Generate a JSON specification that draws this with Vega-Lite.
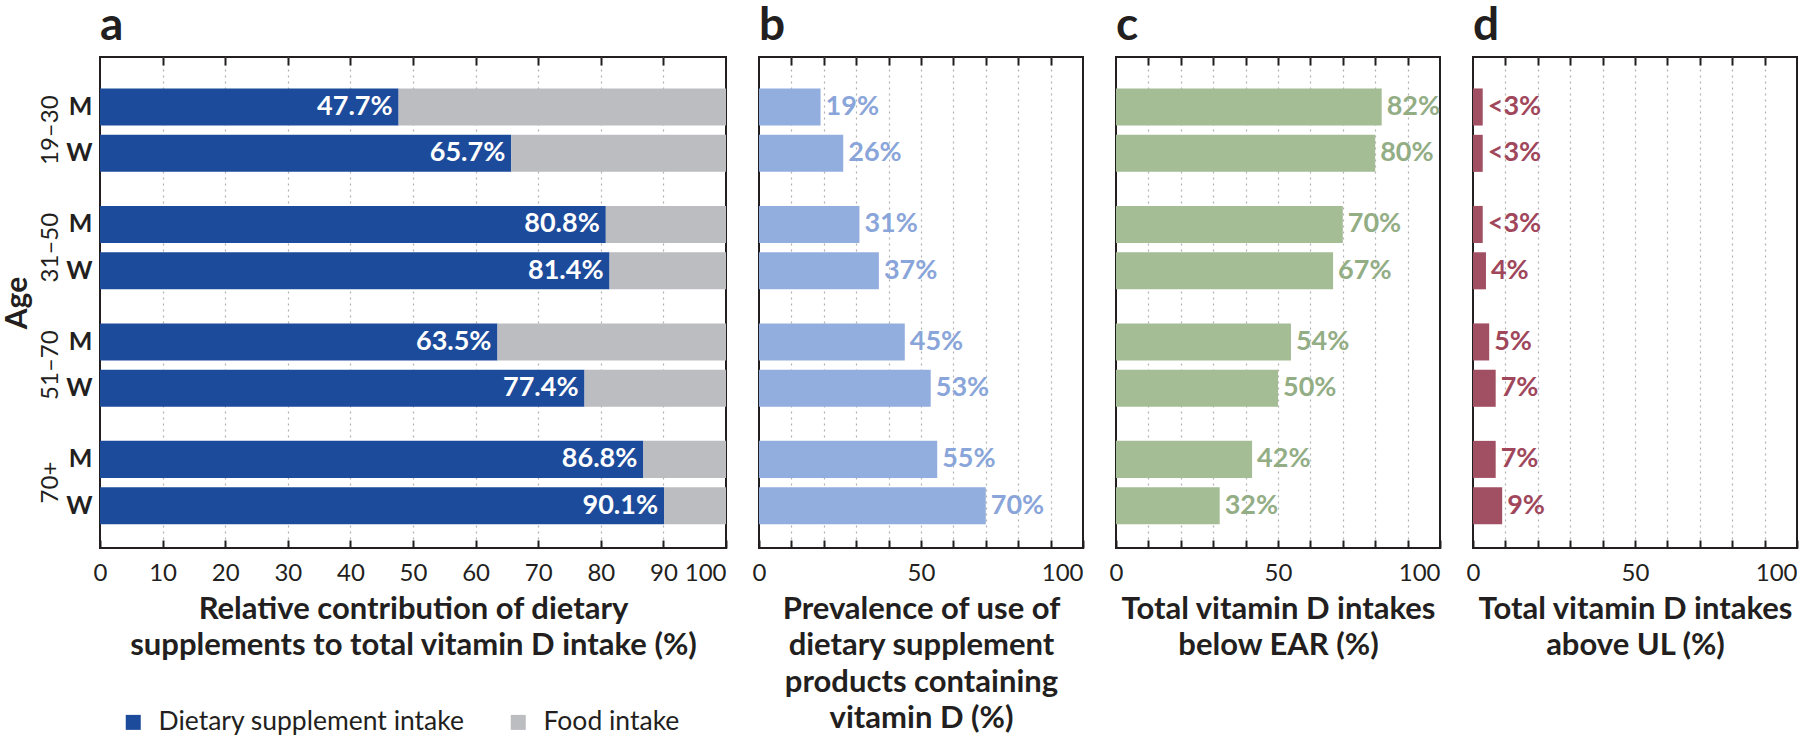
{
  "$schema": "https://vega.github.io/schema/vega-lite/v6.json",
  "autosize": {"type": "pad"},
  "padding": {"left": 1, "top": 2, "right": 0, "bottom": 0},
  "background": "white",
  "config": {
    "font": "Lato",
    "view": {"stroke": "#231f20", "strokeWidth": 2},
    "axis": {"labelColor": "#231f20", "titleColor": "#231f20", "tickColor": "#231f20", "labelFlush": false}
  },
  "datasets": {
    "vitd": [
      {"age": "19–30", "sex": "M", "Dietary supplement intake": 47.7, "Food intake": 52.3, "supp_label": "47.7%", "prev": 19, "prev_label": "19%", "below": 82, "below_label": "82%", "above": 3, "above_label": "<3%"},
      {"age": "19–30", "sex": "W", "Dietary supplement intake": 65.7, "Food intake": 34.3, "supp_label": "65.7%", "prev": 26, "prev_label": "26%", "below": 80, "below_label": "80%", "above": 3, "above_label": "<3%"},
      {"age": "31–50", "sex": "M", "Dietary supplement intake": 80.8, "Food intake": 19.2, "supp_label": "80.8%", "prev": 31, "prev_label": "31%", "below": 70, "below_label": "70%", "above": 3, "above_label": "<3%"},
      {"age": "31–50", "sex": "W", "Dietary supplement intake": 81.4, "Food intake": 18.6, "supp_label": "81.4%", "prev": 37, "prev_label": "37%", "below": 67, "below_label": "67%", "above": 4, "above_label": "4%"},
      {"age": "51–70", "sex": "M", "Dietary supplement intake": 63.5, "Food intake": 36.5, "supp_label": "63.5%", "prev": 45, "prev_label": "45%", "below": 54, "below_label": "54%", "above": 5, "above_label": "5%"},
      {"age": "51–70", "sex": "W", "Dietary supplement intake": 77.4, "Food intake": 22.6, "supp_label": "77.4%", "prev": 53, "prev_label": "53%", "below": 50, "below_label": "50%", "above": 7, "above_label": "7%"},
      {"age": "70+", "sex": "M", "Dietary supplement intake": 86.8, "Food intake": 13.2, "supp_label": "86.8%", "prev": 55, "prev_label": "55%", "below": 42, "below_label": "42%", "above": 7, "above_label": "7%"},
      {"age": "70+", "sex": "W", "Dietary supplement intake": 90.1, "Food intake": 9.9, "supp_label": "90.1%", "prev": 70, "prev_label": "70%", "below": 32, "below_label": "32%", "above": 9, "above_label": "9%"}
    ]
  },
  "spacing": 33,
  "bounds": "flush",
  "hconcat": [
    {
      "width": 626,
      "height": 491,
      "data": {"name": "vitd"},
      "title": {"text": "a", "anchor": "start", "frame": "group", "fontSize": 46, "fontWeight": "bold", "offset": 6, "color": "#231f20"},
      "encoding": {
        "yOffset": {"field": "sex", "type": "nominal", "sort": ["M", "W"], "scale": {"paddingInner": 0.2, "paddingOuter": 0}}
      },
      "layer": [
        {
          "transform": [{"fold": ["Dietary supplement intake", "Food intake"], "as": ["component", "share"]}],
          "mark": {"type": "bar"},
          "encoding": {
            "y": {"field": "age", "type": "nominal", "sort": ["19–30", "31–50", "51–70", "70+"],
                  "scale": {"type": "band", "paddingInner": 0.29, "paddingOuter": 0.235, "align": 0.57},
                  "axis": {"orient": "left", "title": null, "labelExpr": "['M', 'W']", "labelLineHeight": 46.3, "labelOffset": -23.15, "labelFontWeight": "bold", "labelFontSize": 25, "labelPadding": 8, "labelBaseline": "middle", "ticks": false, "domain": false}},
            "x": {"field": "share", "type": "quantitative", "stack": "zero", "scale": {"domain": [0, 100], "nice": false},
                  "axis": {"orient": "bottom", "values": [0, 10, 20, 30, 40, 50, 60, 70, 80, 90, 100], "labelAlign": {"condition": {"test": "datum.value === 100", "value": "right"}, "value": "center"}, "tickSize": -8, "tickWidth": 2, "domain": false, "grid": false, "labelFontSize": 24, "labelPadding": 21,
                           "title": ["Relative contribution of dietary", "supplements to total vitamin D intake (%)"], "titleFontSize": 31, "titleFontWeight": "bold", "titleLineHeight": 36.6, "titlePadding": 9}},
            "color": {"field": "component", "type": "nominal",
                      "scale": {"domain": ["Dietary supplement intake", "Food intake"], "range": ["#1d4b9b", "#bcbdc1"]},
                      "legend": {"orient": "none", "legendX": 20, "legendY": 652, "direction": "horizontal", "title": null, "symbolType": "square", "symbolSize": 225, "symbolStrokeWidth": 0, "labelFontSize": 26.5, "labelLimit": 500, "labelColor": "#231f20", "labelOffset": 12, "columnPadding": 40}},
            "order": {"field": "component"}
          }
        },
        {
          "mark": {"type": "text", "align": "right", "dx": -6, "baseline": "middle", "color": "white", "fontWeight": "bold", "fontSize": 27},
          "encoding": {
            "y": {"field": "age", "type": "nominal", "sort": ["19–30", "31–50", "51–70", "70+"],
                  "axis": {"orient": "left", "title": "Age", "titleFontSize": 30, "titleFontWeight": "bold", "titlePadding": 6, "labelAngle": -90, "labelAlign": "center", "labelBaseline": "bottom", "labelFontSize": 24, "labelPadding": 0, "offset": 38, "ticks": false, "domain": false}},
            "x": {"field": "Dietary supplement intake", "type": "quantitative",
                  "axis": {"orient": "top", "values": [10, 20, 30, 40, 50, 60, 70, 80, 90], "tickSize": -8, "tickWidth": 2, "labels": false, "domain": false, "grid": true, "gridDash": [2, 4], "gridColor": "#b0b0b0", "gridWidth": 1.2, "title": null}},
            "text": {"field": "supp_label"}
          }
        }
      ],
      "resolve": {"axis": {"x": "independent", "y": "independent"}}
    },
    {
      "width": 324,
      "height": 491,
      "data": {"name": "vitd"},
      "title": {"text": "b", "anchor": "start", "frame": "group", "fontSize": 46, "fontWeight": "bold", "offset": 6, "color": "#231f20"},
      "encoding": {
        "y": {"field": "age", "type": "nominal", "sort": ["19–30", "31–50", "51–70", "70+"], "scale": {"type": "band", "paddingInner": 0.29, "paddingOuter": 0.235, "align": 0.57}, "axis": null},
        "yOffset": {"field": "sex", "type": "nominal", "sort": ["M", "W"], "scale": {"paddingInner": 0.2, "paddingOuter": 0}}
      },
      "layer": [
        {
          "mark": {"type": "bar", "color": "#92aede"},
          "encoding": {
            "x": {"field": "prev", "type": "quantitative", "scale": {"domain": [0, 100], "nice": false},
                  "axis": {"orient": "bottom", "values": [0, 10, 20, 30, 40, 50, 60, 70, 80, 90, 100], "labelExpr": "datum.value % 50 === 0 ? datum.label : ''", "labelAlign": {"condition": {"test": "datum.value === 100", "value": "right"}, "value": "center"}, "tickSize": -8, "tickWidth": 2, "domain": false, "grid": false, "labelFontSize": 24, "labelPadding": 21,
                           "title": ["Prevalence of use of", "dietary supplement", "products containing", "vitamin D (%)"], "titleFontSize": 31, "titleFontWeight": "bold", "titleLineHeight": 36.6, "titlePadding": 9}}
          }
        },
        {
          "mark": {"type": "text", "align": "left", "dx": 5, "baseline": "middle", "color": "#8aa5d9", "fontWeight": "bold", "fontSize": 27},
          "encoding": {
            "x": {"field": "prev", "type": "quantitative",
                  "axis": {"orient": "top", "values": [10, 20, 30, 40, 50, 60, 70, 80, 90], "tickSize": -8, "tickWidth": 2, "labels": false, "domain": false, "grid": true, "gridDash": [2, 4], "gridColor": "#b0b0b0", "gridWidth": 1.2, "title": null}},
            "text": {"field": "prev_label"}
          }
        }
      ],
      "resolve": {"axis": {"x": "independent"}}
    },
    {
      "width": 324,
      "height": 491,
      "data": {"name": "vitd"},
      "title": {"text": "c", "anchor": "start", "frame": "group", "fontSize": 46, "fontWeight": "bold", "offset": 6, "color": "#231f20"},
      "encoding": {
        "y": {"field": "age", "type": "nominal", "sort": ["19–30", "31–50", "51–70", "70+"], "scale": {"type": "band", "paddingInner": 0.29, "paddingOuter": 0.235, "align": 0.57}, "axis": null},
        "yOffset": {"field": "sex", "type": "nominal", "sort": ["M", "W"], "scale": {"paddingInner": 0.2, "paddingOuter": 0}}
      },
      "layer": [
        {
          "mark": {"type": "bar", "color": "#a4bd94"},
          "encoding": {
            "x": {"field": "below", "type": "quantitative", "scale": {"domain": [0, 100], "nice": false},
                  "axis": {"orient": "bottom", "values": [0, 10, 20, 30, 40, 50, 60, 70, 80, 90, 100], "labelExpr": "datum.value % 50 === 0 ? datum.label : ''", "labelAlign": {"condition": {"test": "datum.value === 100", "value": "right"}, "value": "center"}, "tickSize": -8, "tickWidth": 2, "domain": false, "grid": false, "labelFontSize": 24, "labelPadding": 21,
                           "title": ["Total vitamin D intakes", "below EAR (%)"], "titleFontSize": 31, "titleFontWeight": "bold", "titleLineHeight": 36.6, "titlePadding": 9}}
          }
        },
        {
          "mark": {"type": "text", "align": "left", "dx": 5, "baseline": "middle", "color": "#93ad85", "fontWeight": "bold", "fontSize": 27},
          "encoding": {
            "x": {"field": "below", "type": "quantitative",
                  "axis": {"orient": "top", "values": [10, 20, 30, 40, 50, 60, 70, 80, 90], "tickSize": -8, "tickWidth": 2, "labels": false, "domain": false, "grid": true, "gridDash": [2, 4], "gridColor": "#b0b0b0", "gridWidth": 1.2, "title": null}},
            "text": {"field": "below_label"}
          }
        }
      ],
      "resolve": {"axis": {"x": "independent"}}
    },
    {
      "width": 324,
      "height": 491,
      "data": {"name": "vitd"},
      "title": {"text": "d", "anchor": "start", "frame": "group", "fontSize": 46, "fontWeight": "bold", "offset": 6, "color": "#231f20"},
      "encoding": {
        "y": {"field": "age", "type": "nominal", "sort": ["19–30", "31–50", "51–70", "70+"], "scale": {"type": "band", "paddingInner": 0.29, "paddingOuter": 0.235, "align": 0.57}, "axis": null},
        "yOffset": {"field": "sex", "type": "nominal", "sort": ["M", "W"], "scale": {"paddingInner": 0.2, "paddingOuter": 0}}
      },
      "layer": [
        {
          "mark": {"type": "bar", "color": "#a14f63"},
          "encoding": {
            "x": {"field": "above", "type": "quantitative", "scale": {"domain": [0, 100], "nice": false},
                  "axis": {"orient": "bottom", "values": [0, 10, 20, 30, 40, 50, 60, 70, 80, 90, 100], "labelExpr": "datum.value % 50 === 0 ? datum.label : ''", "labelAlign": {"condition": {"test": "datum.value === 100", "value": "right"}, "value": "center"}, "tickSize": -8, "tickWidth": 2, "domain": false, "grid": false, "labelFontSize": 24, "labelPadding": 21,
                           "title": ["Total vitamin D intakes", "above UL (%)"], "titleFontSize": 31, "titleFontWeight": "bold", "titleLineHeight": 36.6, "titlePadding": 9}}
          }
        },
        {
          "mark": {"type": "text", "align": "left", "dx": 5, "baseline": "middle", "color": "#a0475c", "fontWeight": "bold", "fontSize": 27},
          "encoding": {
            "x": {"field": "above", "type": "quantitative",
                  "axis": {"orient": "top", "values": [10, 20, 30, 40, 50, 60, 70, 80, 90], "tickSize": -8, "tickWidth": 2, "labels": false, "domain": false, "grid": true, "gridDash": [2, 4], "gridColor": "#b0b0b0", "gridWidth": 1.2, "title": null}},
            "text": {"field": "above_label"}
          }
        }
      ],
      "resolve": {"axis": {"x": "independent"}}
    }
  ]
}
